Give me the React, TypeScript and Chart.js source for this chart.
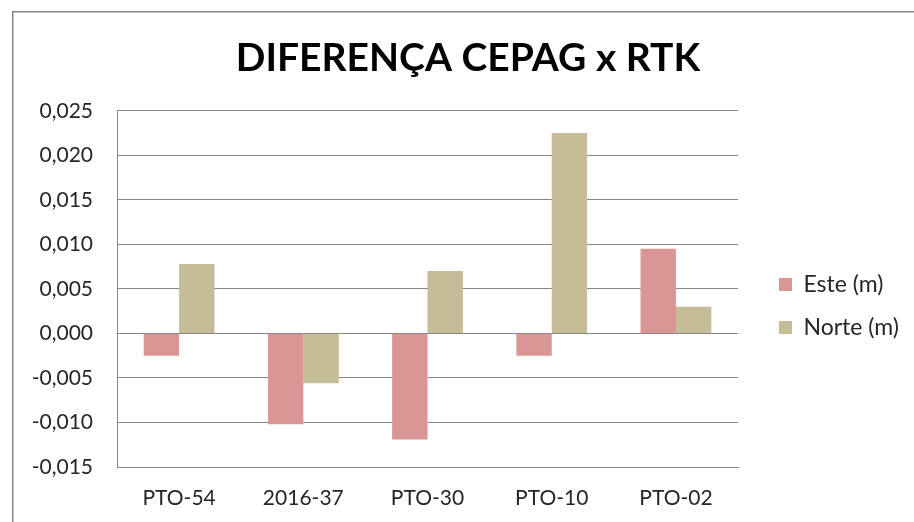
import React, { useEffect, useRef } from "react";
import { Chart, registerables } from "chart.js";

Chart.register(...registerables);

const categories = ["PTO-54", "2016-37", "PTO-30", "PTO-10", "PTO-02"];
const esteValues = [-0.0025, -0.0102, -0.0119, -0.0025, 0.0095];
const norteValues = [0.0078, -0.0056, 0.007, 0.0225, 0.003];
const seriesLabels = ["Este (m)", "Norte (m)"];
const titleText = "DIFERENÇA CEPAG x RTK";
const yMin = -0.015;
const yMax = 0.025;
const yStep = 0.005;

const FONT = "Lato, 'Open Sans', sans-serif";
const GRID = "#868686";
const LEGEND_PAD = 20;

const framePlugin = {
  id: "frame",
  beforeDraw(chart: any) {
    const ctx = chart.ctx;
    ctx.save();
    ctx.fillStyle = "#ffffff";
    ctx.fillRect(0, 0, chart.width, chart.height);
    ctx.fillStyle = "#868686";
    ctx.fillRect(12, 11, 1.5, chart.height);
    ctx.fillRect(12, 11, chart.width, 1.5);
    ctx.restore();
  },
};

const layoutShift = {
  id: "layoutShift",
  afterLayout(chart: any) {
    const lg = chart.legend;
    if (lg) {
      const dx = 779 - (lg.left + LEGEND_PAD);
      lg.left += dx;
      lg.right += dx;
      lg.top += 45;
      lg.bottom += 45;
    }
    const tb = chart.titleBlock;
    if (tb) {
      const dx = 468 - (tb.left + tb.right) / 2;
      tb.left += dx;
      tb.right += dx;
    }
  },
};

export default function App() {
  const ref = useRef<HTMLCanvasElement | null>(null);
  useEffect(() => {
    if (!ref.current) return;
    const chart = new Chart(ref.current, {
      type: "bar",
      data: {
        labels: categories,
        datasets: [
          {
            label: seriesLabels[0],
            data: esteValues,
            backgroundColor: "#D99694",
            categoryPercentage: 0.57,
            barPercentage: 1.0,
          },
          {
            label: seriesLabels[1],
            data: norteValues,
            backgroundColor: "#C4BD97",
            categoryPercentage: 0.57,
            barPercentage: 1.0,
          },
        ],
      },
      plugins: [framePlugin, layoutShift],
      options: {
        responsive: false,
        animation: false,
        devicePixelRatio: 1,
        layout: { padding: { left: 14, right: 26, top: 0, bottom: 0 } },
        plugins: {
          title: {
            display: true,
            text: titleText,
            color: "#000000",
            font: { family: FONT, size: 39, weight: "bold" },
            padding: { top: 35, bottom: 29 },
          },
          legend: {
            position: "right",
            labels: {
              color: "#262626",
              font: { family: FONT, size: 23 },
              boxWidth: 13,
              boxHeight: 13,
              padding: LEGEND_PAD,
            },
          },
          tooltip: { enabled: false },
        },
        scales: {
          x: {
            grid: { display: false, drawTicks: false },
            border: { display: true, color: GRID, width: 1 },
            ticks: {
              color: "#262626",
              font: { family: FONT, size: 21 },
              padding: 19,
              maxRotation: 0,
            },
            afterFit: (s: any) => {
              s.height = 55;
            },
          },
          y: {
            min: yMin,
            max: yMax,
            grid: { color: GRID, drawTicks: false, lineWidth: 1 },
            border: { display: true, color: GRID, width: 1 },
            ticks: {
              stepSize: yStep,
              color: "#262626",
              font: { family: FONT, size: 21 },
              padding: 24,
              callback: (v: any) => Number(v).toFixed(3).replace(".", ","),
            },
            afterFit: (s: any) => {
              s.width = 103;
            },
          },
        },
      },
    });
    return () => chart.destroy();
  }, []);
  return (
    <div style={{ position: "fixed", left: 0, top: 0, width: 914, height: 522, overflow: "hidden", background: "#fff" }}>
      <canvas ref={ref} width={914} height={522} style={{ width: 914, height: 522, display: "block" }} />
    </div>
  );
}
